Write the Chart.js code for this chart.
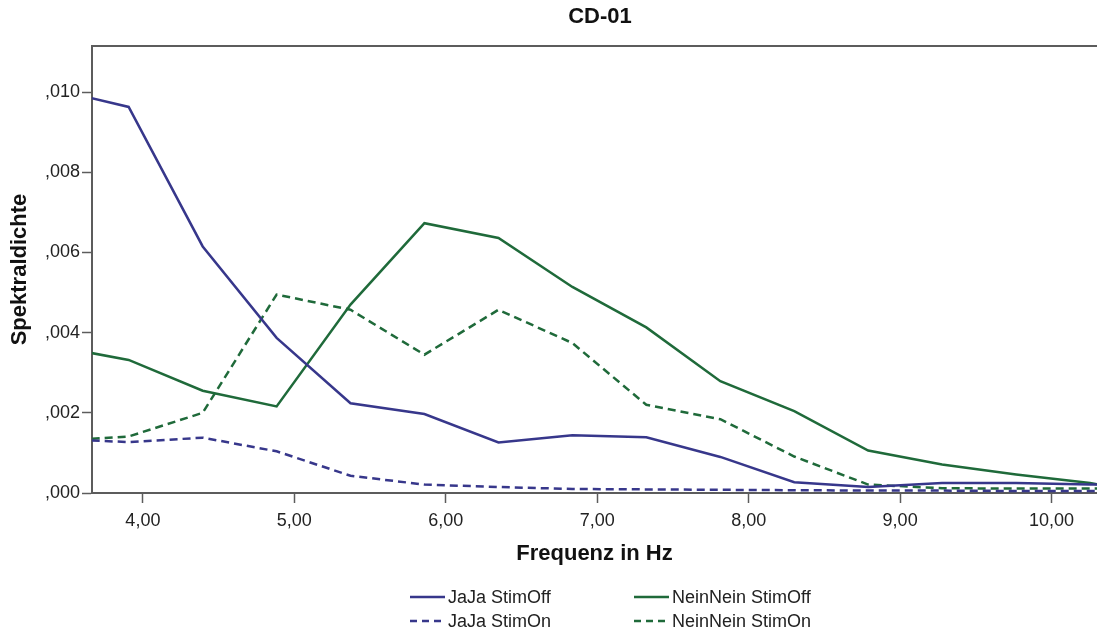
<!DOCTYPE html>
<html>
<head>
<meta charset="utf-8">
<title>CD-01</title>
<script src="https://cdn.jsdelivr.net/npm/chart.js@4.4.1/dist/chart.umd.min.js"></script>
<style>
    html, body { margin: 0; padding: 0; background: #fff; }
    #chartWrap { width: 1097px; height: 634px; }
</style>
</head>
<body>
<div id="chartWrap"><canvas id="spectrumChart" width="1097" height="634"></canvas></div>
<script>
// Frequency bins (Hz)
const freqHz = [3.662, 3.906, 4.395, 4.883, 5.371, 5.859, 6.348, 6.836, 7.324, 7.813, 8.301, 8.789, 9.277, 9.766, 10.254, 10.30];

// Spectral density per condition
const jaOff   = [0.00985, 0.00963, 0.00615, 0.00387, 0.00224, 0.00197, 0.00126, 0.00144, 0.00139, 0.00090, 0.00027, 0.00015, 0.00025, 0.00025, 0.00021, 0.00021];
const jaOn    = [0.00131, 0.00127, 0.00138, 0.00104, 0.00043, 0.00021, 0.00015, 0.00010, 0.00009, 0.00008, 0.00007, 0.00006, 0.00006, 0.00005, 0.00005, 0.00005];
const neinOff = [0.00349, 0.00332, 0.00255, 0.00216, 0.00470, 0.00673, 0.00636, 0.00514, 0.00413, 0.00279, 0.00204, 0.00106, 0.00071, 0.00046, 0.00025, 0.00022];
const neinOn  = [0.00135, 0.00141, 0.00200, 0.00495, 0.00457, 0.00345, 0.00457, 0.00374, 0.00220, 0.00184, 0.00091, 0.00021, 0.00012, 0.00011, 0.00011, 0.00011];

const seriesNames = ['JaJa StimOff', 'JaJa StimOn', 'NeinNein StimOff', 'NeinNein StimOn'];

const BLUE = '#37378b';
const GREEN = '#1f6a3a';
const AXIS = '#5c5c5c';
const FONT = '"Liberation Sans", Arial, sans-serif';
const DASH = [8, 5];

function toPoints(values) {
    return values.map((v, i) => ({ x: freqHz[i], y: v }));
}

function makeSeries(label, values, color, dashed) {
    return {
        label: label,
        data: toPoints(values),
        borderColor: color,
        backgroundColor: color,
        borderWidth: 2.5,
        borderDash: dashed ? DASH : [],
        pointRadius: 0,
        tension: 0,
        fill: false
    };
}

// Title, top frame line and the 2x2 legend underneath
const decorPlugin = {
    id: 'decor',
    afterDraw(chart) {
        const ctx = chart.ctx;
        const area = chart.chartArea;
        ctx.save();

        ctx.strokeStyle = AXIS;
        ctx.lineWidth = 2;
        ctx.beginPath();
        ctx.moveTo(area.left, area.top);
        ctx.lineTo(area.right, area.top);
        ctx.stroke();

        ctx.fillStyle = '#111';
        ctx.font = 'bold 22px ' + FONT;
        ctx.textAlign = 'center';
        ctx.textBaseline = 'middle';
        ctx.fillText('CD-01', 600, 17);

        const cols = [410, 634];
        const rows = [597, 621];
        const entries = [
            [0, 0, 0], [1, 0, 1],
            [2, 1, 0], [3, 1, 1]
        ];
        ctx.font = '18px ' + FONT;
        ctx.textAlign = 'left';
        entries.forEach(([idx, c, r]) => {
            const ds = chart.data.datasets[idx];
            const x = cols[c];
            const y = rows[r];
            ctx.strokeStyle = ds.borderColor;
            ctx.lineWidth = 2.5;
            ctx.setLineDash(ds.borderDash.length ? [7, 5] : []);
            ctx.beginPath();
            ctx.moveTo(x, y);
            ctx.lineTo(x + 35, y);
            ctx.stroke();
            ctx.setLineDash([]);
            ctx.fillStyle = '#222';
            ctx.fillText(ds.label, x + 38, y + 1);
        });

        ctx.restore();
    }
};

const config = {
    type: 'line',
    data: {
        datasets: [
            makeSeries(seriesNames[0], jaOff, BLUE, false),
            makeSeries(seriesNames[1], jaOn, BLUE, true),
            makeSeries(seriesNames[2], neinOff, GREEN, false),
            makeSeries(seriesNames[3], neinOn, GREEN, true)
        ]
    },
    options: {
        responsive: false,
        animation: false,
        layout: { padding: { top: 46, left: 0, right: 0, bottom: 67 } },
        plugins: {
            legend: { display: false },
            title: { display: false },
            tooltip: { enabled: false }
        },
        scales: {
            x: {
                type: 'linear',
                min: 3.664,
                max: 10.30,
                afterFit: (scale) => { scale.height = 74; },
                border: { display: true, color: AXIS, width: 2 },
                grid: { drawOnChartArea: false, drawTicks: true, tickLength: 10, tickColor: AXIS, tickWidth: 1.5 },
                ticks: {
                    stepSize: 1,
                    includeBounds: false,
                    padding: 7,
                    color: '#222',
                    font: { family: FONT, size: 18 },
                    maxRotation: 0,
                    callback: (v) => v.toFixed(2).replace('.', ',')
                },
                title: {
                    display: true,
                    text: 'Frequenz in Hz',
                    color: '#111',
                    font: { family: FONT, size: 22, weight: 'bold' },
                    padding: { top: 0, bottom: 0 }
                }
            },
            y: {
                min: 0,
                max: 0.01115,
                afterFit: (scale) => { scale.width = 92; },
                border: { display: true, color: AXIS, width: 2 },
                grid: { drawOnChartArea: false, drawTicks: true, tickLength: 10, tickColor: AXIS, tickWidth: 1.5 },
                ticks: {
                    stepSize: 0.002,
                    includeBounds: false,
                    padding: 2,
                    color: '#222',
                    font: { family: FONT, size: 18 },
                    callback: (v) => v.toFixed(3).replace('0.', ',')
                },
                title: {
                    display: true,
                    text: 'Spektraldichte',
                    color: '#111',
                    font: { family: FONT, size: 22, weight: 'bold' },
                    padding: { top: 7, bottom: 0 }
                }
            }
        }
    },
    plugins: [decorPlugin]
};

window.onload = function () {
    const canvas = document.getElementById('spectrumChart');
    if (canvas) {
        new Chart(canvas.getContext('2d'), config);
    }
};
</script>
</body>
</html>
